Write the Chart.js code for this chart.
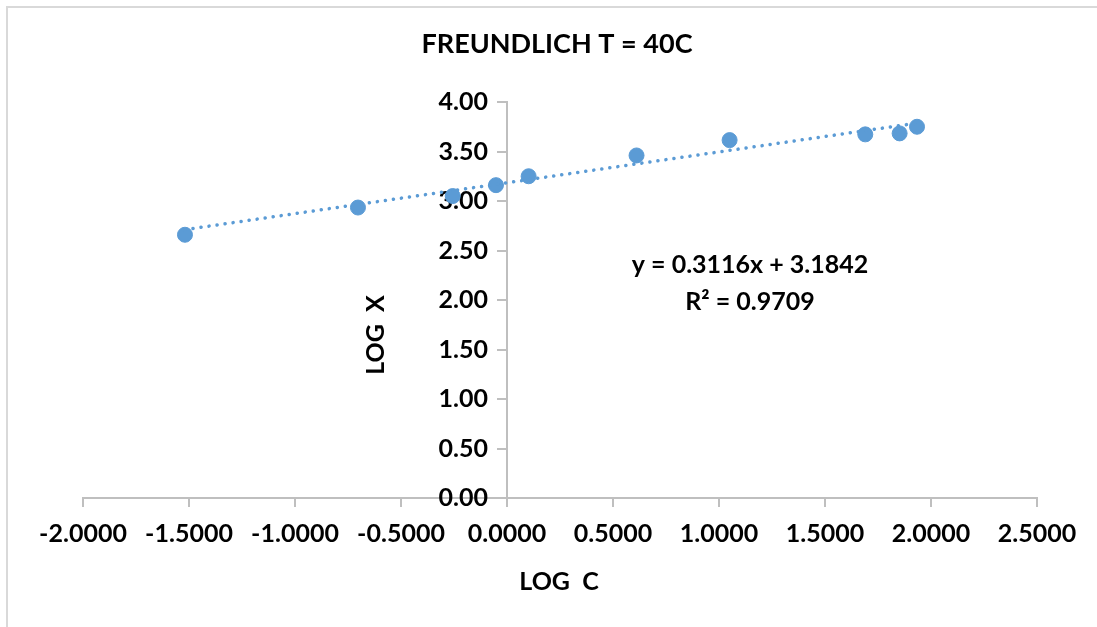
<!DOCTYPE html>
<html>
<head>
<meta charset="utf-8">
<script src="https://cdn.jsdelivr.net/npm/chart.js@4"></script>
<style>
  html, body { margin: 0; padding: 0; background: #fff; }
  #wrap { position: relative; width: 1097px; height: 627px; overflow: hidden; }
  #frame { position: absolute; left: 6px; top: 6px; width: 1200px; height: 700px;
           border-left: 2px solid #d9d9d9; border-top: 2px solid #d9d9d9; }
  canvas { position: absolute; left: 0; top: 0; }
</style>
</head>
<body>
<div id="wrap">
  <div id="frame"></div>
  <canvas id="myChart" width="1097" height="627"></canvas>
</div>
<script>
// data
const logC = [-1.519, -0.703, -0.256, -0.052, 0.102, 0.611, 1.050, 1.690, 1.852, 1.934];
const logX = [2.659, 2.934, 3.050, 3.160, 3.250, 3.460, 3.615, 3.673, 3.683, 3.750];
const slope = 0.3116;
const intercept = 3.1842;
const chartTitle = 'FREUNDLICH T = 40C';
const xTitle = 'LOG  C';
const yTitle = 'LOG  X';
const eqLines = ['y = 0.3116x + 3.1842', 'R\u00B2 = 0.9709'];

const blue = '#5b9bd5';
const grey = '#bfbfbf';
const fontName = 'Lato';

const points = logC.map((c, i) => ({ x: c, y: logX[i] }));
const xMin = Math.min(...logC);
const xMax = Math.max(...logC);
const trend = [
    { x: xMin, y: slope * xMin + intercept },
    { x: xMax, y: slope * xMax + intercept }
];

// y labels sit on the axis at x = 0; padding is ignored there, so push them left
const yLabelShift = {
    id: 'yLabelShift',
    beforeDraw(chart) {
        const items = chart.scales.y.getLabelItems();
        if (items.shifted) return;
        items.forEach(it => { it.options.translation[0] -= 19; });
        items.shifted = true;
    }
};

const textPlugin = {
    id: 'texts',
    afterDraw(chart) {
        const c = chart.ctx;
        c.save();
        c.fillStyle = '#000';
        c.textAlign = 'center';
        c.textBaseline = 'middle';
        c.font = 'bold 27px ' + fontName;
        c.fillText(chartTitle, 557, 44);
        c.font = 'bold 25px ' + fontName;
        c.fillText(xTitle, 559, 582);
        c.fillText(eqLines[0], 750, 265);
        c.fillText(eqLines[1], 750, 302);
        c.translate(376, 335);
        c.rotate(-Math.PI / 2);
        c.fillText(yTitle, 0, 0);
        c.restore();
    }
};

const ctx = document.getElementById('myChart').getContext('2d');
const myChart = new Chart(ctx, {
    type: 'scatter',
    data: {
        datasets: [{
            type: 'line',
            label: 'trend',
            data: trend,
            borderColor: blue,
            borderWidth: 3.5,
            borderDash: [0.1, 8],
            borderCapStyle: 'round',
            pointRadius: 0,
            fill: false
        }, {
            label: 'LOG X',
            data: points,
            backgroundColor: blue,
            borderColor: blue,
            pointRadius: 7.5,
            pointHoverRadius: 7.5
        }]
    },
    options: {
        responsive: false,
        animation: false,
        layout: {
            padding: { left: 83, right: 60, top: 102, bottom: 0 }
        },
        plugins: {
            legend: { display: false },
            title: { display: false },
            tooltip: { enabled: false }
        },
        scales: {
            x: {
                type: 'linear',
                position: 'bottom',
                min: -2,
                max: 2.5,
                afterFit(s) { s.height = 129; },
                ticks: {
                    stepSize: 0.5,
                    color: '#000',
                    padding: 12,
                    maxRotation: 0,
                    font: { family: fontName, size: 25, weight: 'bold' },
                    callback: v => v.toFixed(4)
                },
                grid: { drawOnChartArea: false, tickLength: 9, color: grey, lineWidth: 2 },
                border: { color: grey, width: 2 }
            },
            y: {
                type: 'linear',
                position: { x: 0 },
                z: 1,
                min: 0,
                max: 4,
                afterFit(s) { s.width = 0; },
                ticks: {
                    stepSize: 0.5,
                    color: '#000',
                    font: { family: fontName, size: 25, weight: 'bold' },
                    callback: v => v.toFixed(2)
                },
                grid: { drawOnChartArea: false, tickLength: 9, color: grey, lineWidth: 2 },
                border: { color: grey, width: 2 }
            }
        }
    },
    plugins: [yLabelShift, textPlugin]
});
</script>
</body>
</html>
